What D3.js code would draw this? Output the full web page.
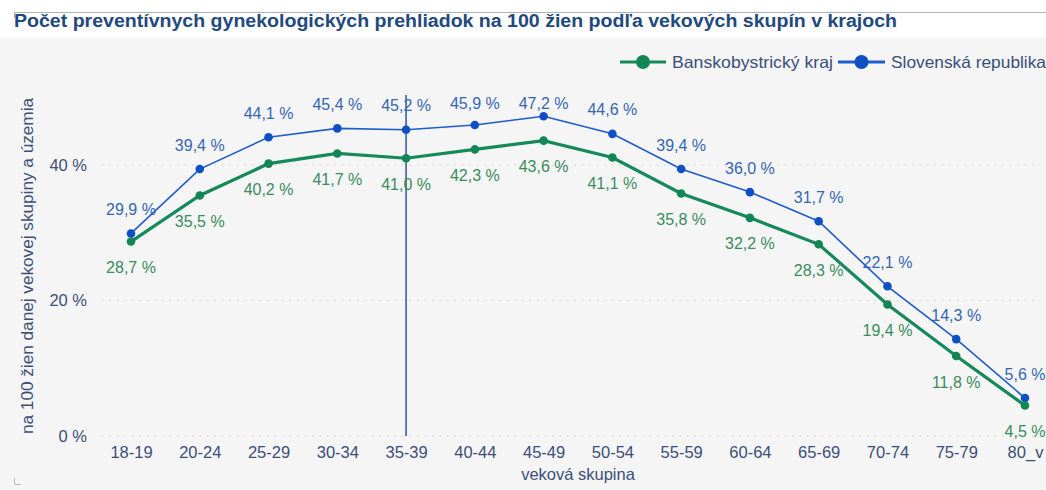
<!DOCTYPE html>
<html><head><meta charset="utf-8">
<script src="https://cdn.jsdelivr.net/npm/d3@7/dist/d3.min.js"></script>
<style>
html,body{margin:0;padding:0;background:#fff;}
svg{display:block;font-family:"Liberation Sans",Arial,sans-serif;}
</style></head>
<body>
<svg id="chart" width="1046" height="490"></svg>
<script>
const categories = ["18-19","20-24","25-29","30-34","35-39","40-44","45-49","50-54","55-59","60-64","65-69","70-74","75-79","80_v"];
const bbValues = [28.7,35.5,40.2,41.7,41.0,42.3,43.6,41.1,35.8,32.2,28.3,19.4,11.8,4.5];
const srValues = [29.9,39.4,44.1,45.4,45.2,45.9,47.2,44.6,39.4,36.0,31.7,22.1,14.3,5.6];
const yTicks = [0,20,40];
const seriesNames = ["Banskobystrický kraj","Slovenská republika"];
const titleText = "Počet preventívnych gynekologických prehliadok na 100 žien podľa vekových skupín v krajoch";
const yTitle = "na 100 žien danej vekovej skupiny a územia";
const xTitle = "veková skupina";
const hoverCategory = "35-39";

const svg = d3.select("#chart");
const W = 1046, H = 490;
const greenLine = "#16895b", blueLine = "#1f5ccc";
const greenText = "#3a8c60", blueText = "#3566b3";
const axisText = "#3b4f7a";

// backgrounds
svg.append("rect").attr("x",0).attr("y",0).attr("width",W).attr("height",H).attr("fill","#fff");
svg.append("rect").attr("x",0).attr("y",38).attr("width",W).attr("height",H-38).attr("fill","#f5f5f5");
svg.append("line").attr("x1",14).attr("x2",W).attr("y1",12.5).attr("y2",12.5).attr("stroke","#b0b0b0").attr("stroke-width",1);
svg.append("path").attr("d","M14.5,12 V18").attr("stroke","#b0b0b0").attr("fill","none");
svg.append("path").attr("d","M14.5,478 V484.5 H21").attr("stroke","#b8b8b8").attr("fill","none");

// title
svg.append("text").attr("x",14).attr("y",27)
  .attr("font-size",18).attr("font-weight","bold").attr("fill","#22497d")
  .attr("textLength",883).attr("lengthAdjust","spacingAndGlyphs")
  .text(titleText);

const x = d3.scalePoint().domain(categories).range([131,1025]);
const y = d3.scaleLinear().domain([0,40]).range([436,165]);

// gridlines
const grid = svg.append("g");
yTicks.forEach(t=>{
  grid.append("line").attr("x1",102).attr("x2",1040).attr("y1",y(t)).attr("y2",y(t))
    .attr("stroke","#cfcfcf").attr("stroke-width",1.2).attr("stroke-dasharray","1.5,6");
});

// y axis
const yAxis = d3.axisLeft(y).tickValues(yTicks).tickSize(0).tickPadding(0)
  .tickFormat(d=>d+" %");
const yg = svg.append("g").attr("transform","translate(87,0)").call(yAxis);
yg.select(".domain").remove();
yg.selectAll("text").attr("font-size",16.5).attr("fill",axisText).attr("font-family","Liberation Sans, Arial, sans-serif");

// x axis
const xAxis = d3.axisBottom(x).tickSize(0).tickPadding(0);
const xg = svg.append("g").attr("transform","translate(0,446)").call(xAxis);
xg.select(".domain").remove();
xg.selectAll("text").attr("font-size",16.5).attr("fill",axisText).attr("font-family","Liberation Sans, Arial, sans-serif");

// axis titles
svg.append("text").attr("transform","translate(33,266) rotate(-90)")
  .attr("text-anchor","middle").attr("font-size",16.5).attr("fill",axisText)
  .attr("textLength",336).attr("lengthAdjust","spacingAndGlyphs")
  .text(yTitle);
svg.append("text").attr("x",578).attr("y",480).attr("text-anchor","middle")
  .attr("font-size",16.5).attr("fill",axisText)
  .text(xTitle);

// hover line
svg.append("line").attr("x1",x(hoverCategory)).attr("x2",x(hoverCategory))
  .attr("y1",95).attr("y2",436).attr("stroke","#3a5f9c").attr("stroke-width",1.6);

const line = d3.line().x((d,i)=>x(categories[i])).y(d=>y(d));

// SR line
svg.append("path").datum(srValues).attr("d",line).attr("fill","none")
  .attr("stroke",blueLine).attr("stroke-width",1.6);
// BB line
svg.append("path").datum(bbValues).attr("d",line).attr("fill","none")
  .attr("stroke",greenLine).attr("stroke-width",3.2);

svg.append("g").selectAll("circle").data(srValues).join("circle")
  .attr("cx",(d,i)=>x(categories[i])).attr("cy",d=>y(d)).attr("r",4.3).attr("fill","#0e4fc6");
svg.append("g").selectAll("circle").data(bbValues).join("circle")
  .attr("cx",(d,i)=>x(categories[i])).attr("cy",d=>y(d)).attr("r",4.3).attr("fill","#128657");

const fmt = v => v.toFixed(1).replace(".",",")+" %";
svg.append("g").selectAll("text").data(srValues).join("text")
  .attr("x",(d,i)=>x(categories[i])).attr("y",d=>Math.max(103, y(d)-24))
  .attr("dy","0.35em").attr("text-anchor","middle").attr("font-size",16)
  .attr("fill",blueText).text(fmt);
svg.append("g").selectAll("text").data(bbValues).join("text")
  .attr("x",(d,i)=>x(categories[i])).attr("y",d=>y(d)+26)
  .attr("dy","0.35em").attr("text-anchor","middle").attr("font-size",16)
  .attr("fill",greenText).text(fmt);

// legend
const legend = [
  {name:seriesNames[0], color:greenLine, dot:"#128657", x1:620, x2:666, tx:672, tl:161},
  {name:seriesNames[1], color:blueLine, dot:"#0e4fc6", x1:838, x2:885, tx:891, tl:155}
];
const lg = svg.append("g");
legend.forEach(l=>{
  lg.append("line").attr("x1",l.x1).attr("x2",l.x2).attr("y1",62).attr("y2",62)
    .attr("stroke",l.color).attr("stroke-width",3);
  lg.append("circle").attr("cx",(l.x1+l.x2)/2).attr("cy",62).attr("r",7).attr("fill",l.dot);
  lg.append("text").attr("x",l.tx).attr("y",62).attr("dy","0.35em").attr("font-size",16.5)
    .attr("fill",axisText).attr("textLength",l.tl).attr("lengthAdjust","spacingAndGlyphs").text(l.name);
});
</script>
</body></html>
